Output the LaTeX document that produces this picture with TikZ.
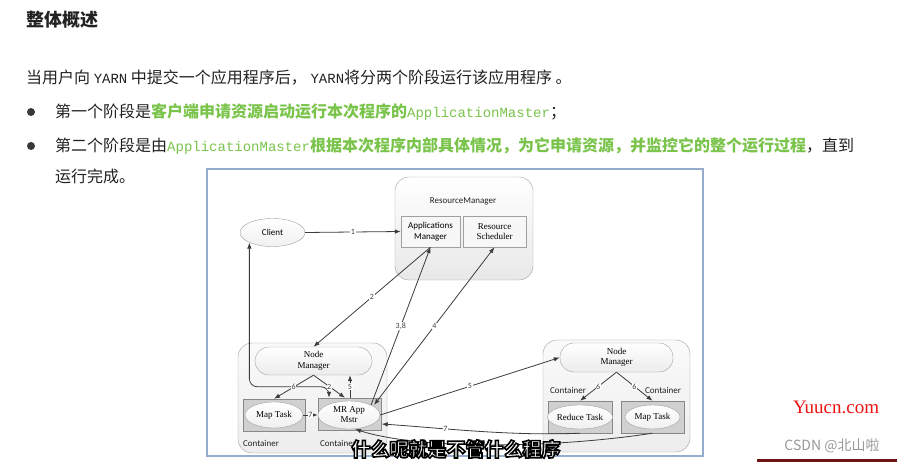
\documentclass[tikz,border=0pt]{standalone}
\usepackage{fontspec}
\usepackage{tikz}
\usetikzlibrary{arrows.meta,shapes.geometric,positioning}
\newfontfamily\cjk{Noto Sans CJK SC}
\newfontfamily\cmono{Liberation Mono}
\newfontfamily\dsans{Carlito}
\newfontfamily\dserif{Liberation Serif}
\definecolor{txt}{RGB}{34,34,34}
\definecolor{hl}{RGB}{122,196,76}
\definecolor{frame}{RGB}{150,172,204}
\definecolor{edge}{RGB}{160,160,160}
\definecolor{arr}{RGB}{60,60,60}
\definecolor{cfill}{RGB}{208,208,208}
\definecolor{wmred}{RGB}{235,20,20}
\definecolor{bar}{RGB}{110,20,20}
\newcommand{\hlb}[1]{{\bfseries\color{hl}#1}}
\newcommand{\hlm}[1]{{\cmono\fontsize{14}{16}\selectfont\color{hl}#1}}
\newcommand{\ym}[1]{{\cmono\fontsize{14}{16}\selectfont #1}}

\begin{document}
\begin{tikzpicture}[x=1pt,y=-1pt,>={Latex[length=6pt,width=4.5pt]},
  line/.style={anchor=west,text=txt,font=\cjk\fontsize{16}{20}\selectfont,inner sep=0pt},
  bullet/.style={circle,fill=txt!90,inner sep=0pt,minimum size=8pt},
  rmbox/.style={draw=edge,rounded corners=14pt,top color=white,bottom color=gray!18},
  subbox/.style={draw=edge,fill=gray!6,align=center,inner sep=0pt,minimum width=60pt,minimum height=31pt},
  hostbox/.style={draw=edge,rounded corners=14pt,top color=gray!4,bottom color=gray!14},
  nmbox/.style={draw=edge,rounded corners=14pt,top color=white,bottom color=gray!15,align=center,
    font=\dserif\fontsize{9}{10.5}\selectfont,inner sep=0pt},
  cbox/.style={draw=edge!85!black,fill=cfill,inner sep=0pt,minimum width=63pt,minimum height=32pt},
  task/.style={ellipse,draw=edge,top color=white,bottom color=gray!12,inner sep=0pt,align=center,
    font=\dserif\fontsize{9}{10}\selectfont},
  conn/.style={draw=arr,line width=0.8pt,->},
  num/.style={midway,fill=white,inner sep=0.6pt,font=\dsans\fontsize{8}{9}\selectfont,text=arr},
  clab/.style={font=\dsans\fontsize{9}{10}\selectfont,text=txt}]
  \useasboundingbox (0,0) rectangle (897,462);
  \fill[white] (0,0) rectangle (897,462);

  % text above the figure
  \node[line,font=\cjk\bfseries\fontsize{18}{22}\selectfont] (title) at (26,20) {整体概述};
  \node[line] (intro) at (26,78) {当用户向 \ym{YARN} 中提交一个应用程序后， \ym{YARN}将分两个阶段运行该应用程序 。};
  \node[bullet] (bulA) at (31,112) {};
  \node[line] (stepA) at (55,112) {第一个阶段是\hlb{客户端申请资源启动运行本次程序的}\hlm{ApplicationMaster}；};
  \node[bullet] (bulB) at (31,146) {};
  \node[line] (stepB) at (55,146) {第二个阶段是由\hlm{ApplicationMaster}\hlb{根据本次程序内部具体情况，为它申请资源，并监控它的整个运行过程}，直到};
  \node[line] (stepC) at (55,176) {运行完成。};

  % figure frame
  \draw[frame,line width=1.2pt] (207,169) rectangle (703,456);

  % ResourceManager
  \node[rmbox,minimum width=138pt,minimum height=103pt] (rm) at (464,228.5) {};
  \node[font=\dsans\fontsize{9}{10}\selectfont,text=txt] (rmlab) at (463,201) {ResourceManager};
  \node[subbox,minimum width=59pt,font=\dsans\fontsize{9}{10.5}\selectfont] (am) at (430.5,231.5) {Applications\\Manager};
  \node[subbox,minimum width=63pt,font=\dserif\fontsize{9}{10.5}\selectfont] (rs) at (494.5,231.5) {Resource\\Scheduler};
  \node[task,font=\dsans\fontsize{9}{10}\selectfont,minimum width=65pt,minimum height=28pt] (client) at (272.5,232.5) {Client};

  % left node
  \node[hostbox,minimum width=149pt,minimum height=110pt] (hostA) at (312.5,398) {};
  \node[nmbox,minimum width=117pt,minimum height=28pt] (nmA) at (313.5,361) {Node\\Manager};
  \node[cbox,minimum width=62pt] (cA1) at (274,415) {};
  \node[task,minimum width=58pt,minimum height=26pt] (mapA) at (cA1) {Map Task};
  \node[cbox,minimum width=63pt] (cA2) at (350,414) {};
  \node[task,minimum width=62pt,minimum height=28pt] (mrapp) at (349,415) {MR App\\Mstr};
  \node[clab] (labA1) at (261,443) {Container};
  \node[clab] (labA2) at (338,443) {Container};

  % right node
  \node[hostbox,minimum width=147pt,minimum height=112pt] (hostB) at (616.5,396) {};
  \node[nmbox,minimum width=113pt,minimum height=29pt] (nmB) at (616.5,357.5) {Node\\Manager};
  \node[cbox,minimum width=64pt] (cB1) at (580,417) {};
  \node[task,minimum width=57pt,minimum height=24pt] (redB) at (cB1) {Reduce Task};
  \node[cbox] (cB2) at (652.5,417) {};
  \node[task,minimum width=55pt,minimum height=24pt] (mapB) at (cB2) {Map Task};
  \node[clab] (labB1) at (568,390) {Container};
  \node[clab] (labB2) at (663,390) {Container};

  % steps
  \draw[conn] (client.east) -- (am.west) node[num]{1};
  \draw[conn] (am.south) -- (nmA.north) node[num]{2};
  \draw[conn] (mrapp.north east) -- (am.south) node[num]{3,8};
  \draw[conn,<->] ([xshift=3pt]mrapp.north east) -- (rs.south) node[num]{4};
  \draw[conn,<->,rounded corners=8pt] (client.south west) |- ([xshift=-21pt,yshift=11pt]cA2.north) -- ([xshift=-21pt]cA2.north);
  \draw[conn] (nmA.south) -- (cA1.north) node[num]{6};
  \draw[conn] (nmA.south) -- ([xshift=-5pt]cA2.north) node[num]{2};
  \draw[conn] (cA2.north) -- (cA2.north |- nmA.south) node[num]{5};
  \draw[conn] (mapA.east) -- (mrapp.west) node[num]{7};
  \draw[conn] (mrapp.east) -- (nmB.west) node[num]{5};
  \draw[conn] (nmB.south) -- (cB1.north) node[num]{6};
  \draw[conn] (nmB.south) -- (cB2.north) node[num]{6};
  \draw[conn] (cB1.south) .. controls +(-70,3) and +(60,4) .. ([yshift=-10pt]cA2.east) node[num,pos=0.66]{7};
  \draw[conn] (cB2.south) .. controls +(-90,14) and +(70,22) .. ([xshift=6pt]mrapp.south);

  % subtitle and marks
  \node[font=\cjk\bfseries\fontsize{19}{22}\selectfont,text=white] (sub) at (456,449)
    {\special{pdf:code 2 Tr 1.6 w 0 0 0 RG}什么呢就是不管什么程序};
  \node[font=\dserif\fontsize{19}{22}\selectfont,text=wmred] (wmA) at (836,407) {Yuucn.com};
  \node[font=\cjk\fontsize{14}{16}\selectfont,text=gray!80] (wmB) at (832,446) {CSDN @北山啦};
  \fill[bar] (757,459) rectangle (897,462);
\end{tikzpicture}
\end{document}
